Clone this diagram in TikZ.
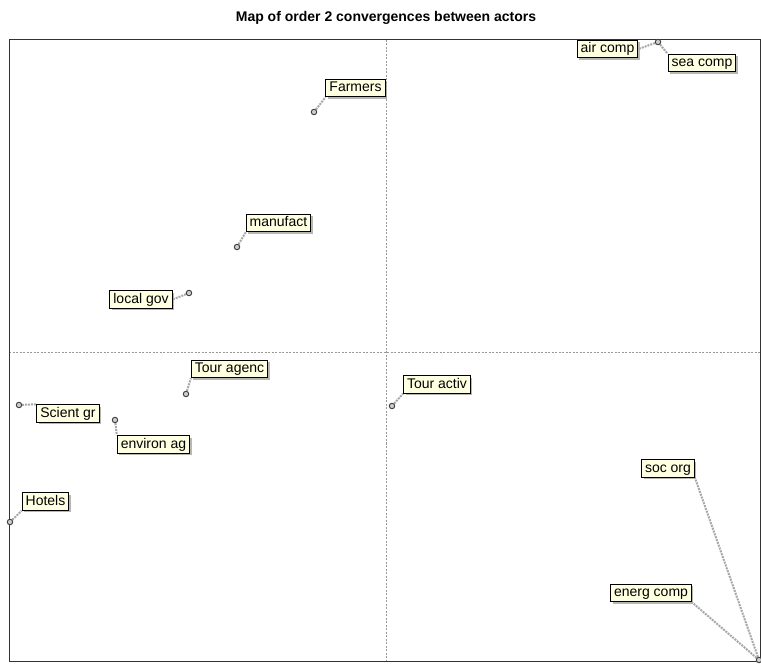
\documentclass[tikz,border=0pt]{standalone}
\usepackage{fontspec}
\setmainfont{Liberation Sans}
\usetikzlibrary{shadows,backgrounds}
\definecolor{tipfill}{HTML}{FFFFE1}
\definecolor{linkgray}{HTML}{A8A8A8}
\tikzset{
  actor/.style={draw=black, fill=tipfill, line width=1pt, inner xsep=3.5pt, inner ysep=2pt,
    font=\fontsize{14}{15}\selectfont, text height=10.5pt, text depth=3pt,
    drop shadow={shadow xshift=2pt, shadow yshift=-2pt, fill=gray!70, opacity=0.8}},
  dot/.style={circle, draw=black!75, fill=gray!40, line width=0.9pt, inner sep=0pt, minimum size=5.5pt},
  link/.style={draw=linkgray, line width=2pt, densely dotted},
  axis/.style={draw=gray!80, line width=0.6pt, dash pattern=on 2pt off 1.5pt},
}
\begin{document}
\begin{tikzpicture}[x=1pt, y=-1pt]
\useasboundingbox (0,0) rectangle (761,668);
\begin{pgfonlayer}{background}
\fill[white] (0,0) rectangle (761,668);
\end{pgfonlayer}

% title
\node[font=\bfseries\fontsize{14}{16}\selectfont] (title) at (386,18) {Map of order 2 convergences between actors};

% quadrant axes and frame
\draw[axis] (386,40) -- (386,661);
\draw[axis] (9,352) -- (760,352);
\draw[line width=1pt, black!80] (9,40) rectangle (760,661);

% actor positions
\node[dot] (pair) at (658,42) {};
\node[dot] (pfar) at (314,112) {};
\node[dot] (pman) at (237,247) {};
\node[dot] (ploc) at (189,293) {};
\node[dot] (ptag) at (186,394) {};
\node[dot] (psci) at (19,405) {};
\node[dot] (penv) at (115,420) {};
\node[dot] (phot) at (10,522) {};
\node[dot] (ptac) at (392,406) {};
\node[dot] (pcor) at (759,660) {};

% labels
\node[actor] (air) at (607.5,49) {air comp};
\node[actor] (sea) at (702,63) {sea comp};
\node[actor] (far) at (355.5,88) {Farmers};
\node[actor] (man) at (278.5,223) {manufact};
\node[actor] (loc) at (141,299.5) {local gov};
\node[actor] (tag) at (229.5,369) {Tour agenc};
\node[actor] (sci) at (68,413.5) {Scient gr};
\node[actor] (env) at (153.5,444.5) {environ ag};
\node[actor] (hot) at (45.5,501.5) {Hotels};
\node[actor] (tac) at (437,384.5) {Tour activ};
\node[actor] (soc) at (668,468.5) {soc org};
\node[actor] (ene) at (651,593) {energ comp};

% leader lines from positions to labels, kept behind the labels
\begin{pgfonlayer}{background}
\draw[link] (pair) -- (air.east);
\draw[link] (pair) -- (sea.north west);
\draw[link] (pfar) -- (far.south west);
\draw[link] (pman) -- (man.south west);
\draw[link] (ploc) -- (loc.east);
\draw[link] (ptag) -- (tag.south west);
\draw[link] (psci) -- (sci.north west);
\draw[link] (penv) -- (env.north west);
\draw[link] (phot) -- (hot.south west);
\draw[link] (ptac) -- (tac.south west);
\draw[link] (pcor) -- (soc.south east);
\draw[link] (pcor) -- (ene.south east);
\end{pgfonlayer}
\end{tikzpicture}
\end{document}
